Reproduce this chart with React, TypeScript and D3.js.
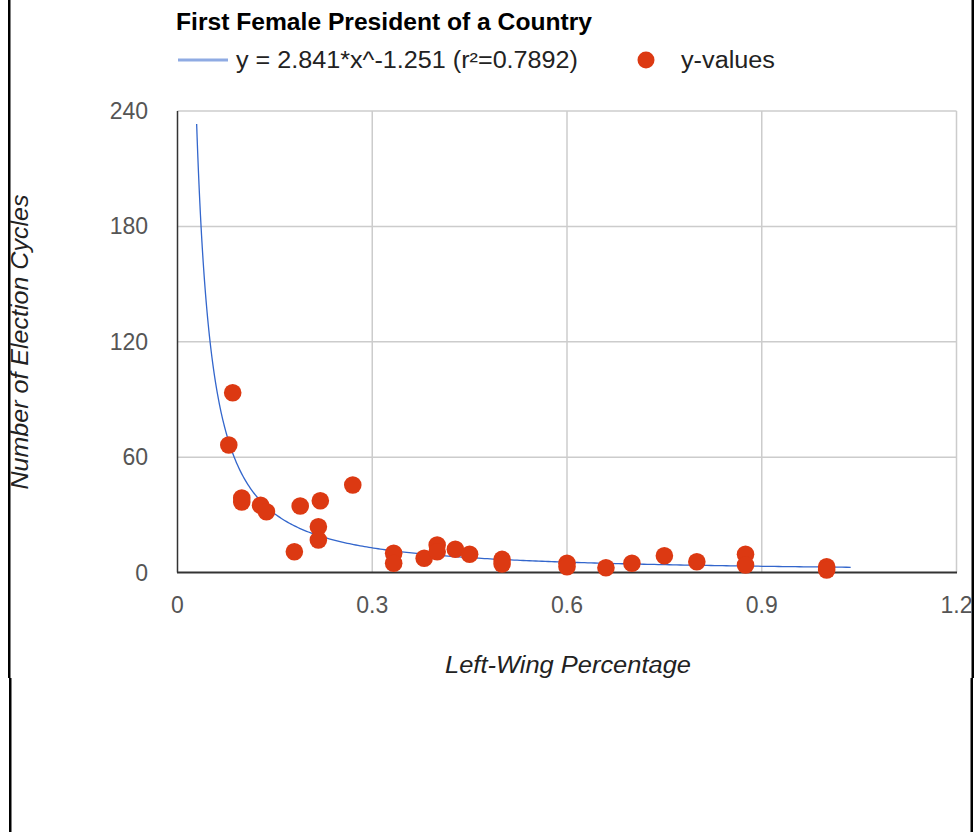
import * as d3 from 'd3'

// chart values
const leftWing = [0.085, 0.079, 0.099, 0.099, 0.128, 0.137, 0.189, 0.22, 0.217, 0.217, 0.18, 0.27,
  0.333, 0.333, 0.38, 0.4, 0.4, 0.428, 0.45, 0.5, 0.5, 0.6, 0.6, 0.66, 0.7, 0.75, 0.8, 0.875, 0.875, 1.0, 1.0]
const cycles = [93.5, 66.3, 38.7, 36.7, 35, 31.6, 34.6, 37.3, 23.8, 16.9, 10.8, 45.5,
  10, 4.8, 7.4, 14.3, 10.8, 12.1, 9.5, 6.8, 4.4, 4.8, 3, 2.5, 4.8, 8.7, 5.6, 9.5, 3.9, 3, 1.3]
const xTicks = [0, 0.3, 0.6, 0.9, 1.2]
const yTicks = [0, 60, 120, 180, 240]
const trendCoef = 2.841
const trendExp = -1.251
const trendRange = [0.0295, 1.037]

const title = 'First Female President of a Country'
const trendLabel = 'y = 2.841*x^-1.251 (r\u00b2=0.7892)'
const seriesLabel = 'y-values'
const xTitle = 'Left-Wing Percentage'
const yTitle = 'Number of Election Cycles'

const W = 976
const H = 832
const left = 177.5, right = 956.5, top = 111, bottom = 572.5
const font = '"Liberation Sans", Arial, sans-serif'
const red = '#dc3912'
const blue = '#3366cc'

export default function App() {
  const x = d3.scaleLinear().domain([0, 1.2]).range([left, right])
  const y = d3.scaleLinear().domain([0, 240]).range([bottom, top])

  // sample the fitted power curve shown in the legend
  const trendX = d3.range(0, 301).map(i => trendRange[0] + (trendRange[1] - trendRange[0]) * (i / 300) ** 2)
  const line = d3.line<number>().x(d => x(d)).y(d => y(trendCoef * Math.pow(d, trendExp)))

  return (
    <svg width={W} height={H} style={{ position: 'absolute', left: 0, top: 0, background: '#fff' }}>
      <rect width={W} height={H} fill="#fff" />

      {/* page borders */}
      <rect x={8} y={0} width={2.5} height={678} fill="#000" />
      <rect x={9} y={678} width={2.5} height={H - 678} fill="#000" />
      <rect x={971.5} y={0} width={2.5} height={678} fill="#000" />
      <rect x={970.5} y={678} width={2.5} height={H - 678} fill="#000" />

      <text x={176} y={30} fontFamily={font} fontWeight="bold" fontSize={23} fill="#000"
        textLength={416} lengthAdjust="spacingAndGlyphs">{title}</text>

      {/* legend */}
      <line x1={178} x2={228} y1={60} y2={60} stroke={blue} strokeOpacity={0.55} strokeWidth={3} />
      <text x={236} y={68} fontFamily={font} fontSize={23} fill="#222"
        textLength={342} lengthAdjust="spacingAndGlyphs">{trendLabel}</text>
      <circle cx={646} cy={60} r={8.5} fill={red} />
      <text x={681} y={68} fontFamily={font} fontSize={23} fill="#222"
        textLength={94} lengthAdjust="spacingAndGlyphs">{seriesLabel}</text>

      {/* grid */}
      {yTicks.filter(t => t > 0).map(t => (
        <line key={'gy' + t} x1={left} x2={right} y1={y(t)} y2={y(t)} stroke="#cccccc" strokeWidth={1.5} />
      ))}
      {xTicks.filter(t => t > 0).map(t => (
        <line key={'gx' + t} x1={x(t)} x2={x(t)} y1={top} y2={bottom} stroke="#cccccc" strokeWidth={1.5} />
      ))}

      {/* axes */}
      <line x1={left} x2={left} y1={top} y2={bottom} stroke="#333" strokeWidth={1.5} />
      <line x1={left - 0.5} x2={right + 0.5} y1={bottom} y2={bottom} stroke="#333" strokeWidth={1.8} />

      {yTicks.map(t => (
        <text key={'ty' + t} x={148} y={y(t) + 8} textAnchor="end" fontFamily={font} fontSize={23} fill="#555">{t}</text>
      ))}
      {xTicks.map(t => (
        <text key={'tx' + t} x={x(t)} y={613} textAnchor="middle" fontFamily={font} fontSize={23} fill="#555">{t}</text>
      ))}

      <text x={568} y={673} textAnchor="middle" fontFamily={font} fontStyle="italic" fontSize={23} fill="#222"
        textLength={246} lengthAdjust="spacingAndGlyphs">{xTitle}</text>
      <text transform={`translate(28,342) rotate(-90)`} textAnchor="middle" fontFamily={font} fontStyle="italic"
        fontSize={23} fill="#222" textLength={295} lengthAdjust="spacingAndGlyphs">{yTitle}</text>

      {/* trendline and points */}
      <path d={line(trendX) ?? ''} fill="none" stroke={blue} strokeWidth={1.3} />
      {leftWing.map((v, i) => (
        <circle key={i} cx={x(v)} cy={y(cycles[i])} r={8.8} fill={red} />
      ))}

      {/* the 1.2 label is cut by the border in the reference */}
      <rect x={974} y={580} width={2} height={60} fill="#fff" />
    </svg>
  )
}
